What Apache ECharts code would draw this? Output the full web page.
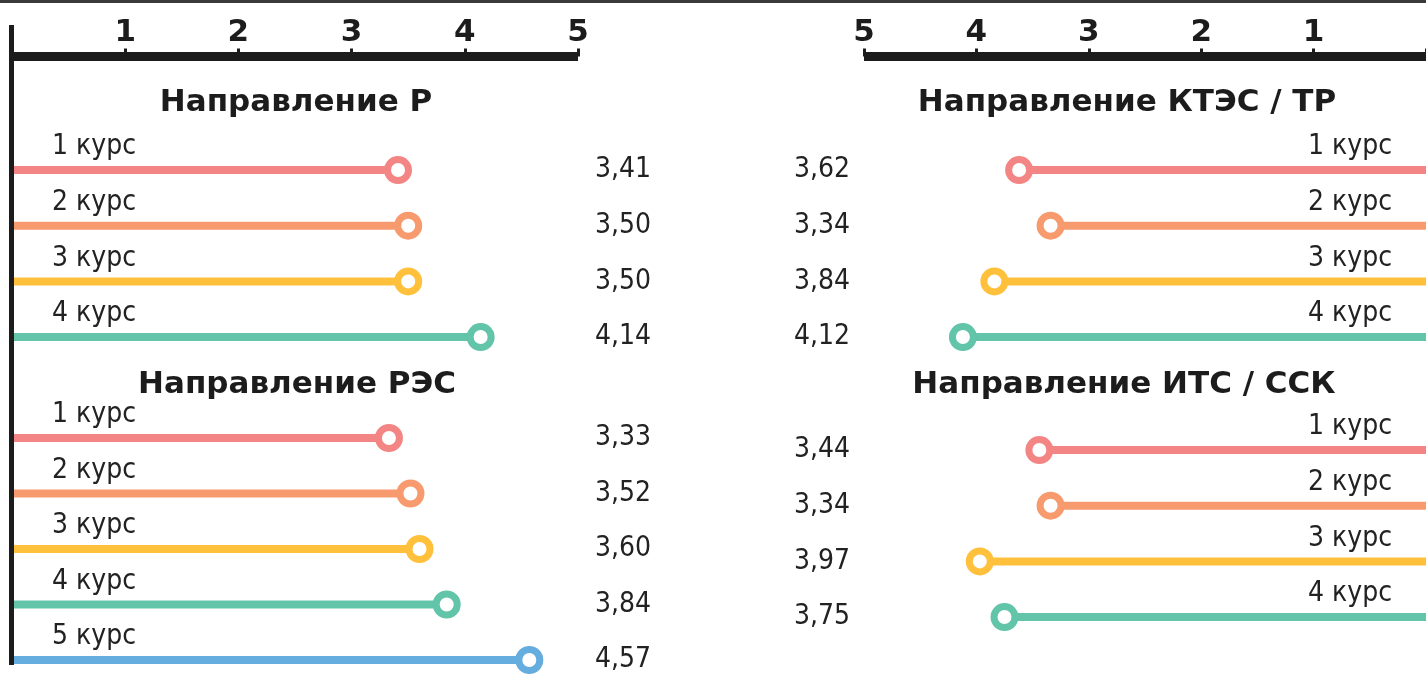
<!DOCTYPE html>
<html><head><meta charset="utf-8">
<script src="https://cdn.jsdelivr.net/npm/echarts@6/dist/echarts.min.js"></script>
<style>html,body{margin:0;padding:0;background:#fff;overflow:hidden}#c{width:1426px;height:695px}</style>
</head><body><div id="c"></div>
<script>
// ---- data ----
const groupTitles = ['Направление Р', 'Направление РЭС', 'Направление КТЭС / ТР', 'Направление ИТС / ССК'];
const coursesR = ['1 курс', '2 курс', '3 курс', '4 курс'];
const coursesRES = ['1 курс', '2 курс', '3 курс', '4 курс', '5 курс'];
const coursesKTES = ['1 курс', '2 курс', '3 курс', '4 курс'];
const coursesITS = ['1 курс', '2 курс', '3 курс', '4 курс'];
const valuesR = [3.41, 3.50, 3.50, 4.14];
const valuesRES = [3.33, 3.52, 3.60, 3.84, 4.57];
const valuesKTES = [3.62, 3.34, 3.84, 4.12];
const valuesITS = [3.44, 3.34, 3.97, 3.75];
const axisMin = 0, axisMax = 5, axisStep = 1;
const colors = ['#F38684', '#F79B6F', '#FFC13C', '#62C4A8', '#64ADDE'];

// ---- styling ----
const REG = "'DejaVu Sans Condensed','Liberation Sans Narrow','DejaVu Sans',sans-serif";
const BOLD = "'DejaVu Sans','Liberation Sans',sans-serif";
const INK = '#1c1c1c';
const fmt = v => v.toFixed(2).replace('.', ',');

const panels = [
  { courses: coursesR, values: valuesR, side: 'left', grid: { left: 12, width: 566, top: 142.2, height: 222.7 }, showAxis: true, title: groupTitles[0], tx: 296, ty: 103 },
  { courses: coursesRES, values: valuesRES, side: 'left', grid: { left: 12, width: 566, top: 410.25, height: 277.5 }, showAxis: false, title: groupTitles[1], tx: 297, ty: 385 },
  { courses: coursesKTES, values: valuesKTES, side: 'right', grid: { left: 864, width: 562, top: 142.2, height: 222.7 }, showAxis: true, title: groupTitles[2], tx: 1127, ty: 103 },
  { courses: coursesITS, values: valuesITS, side: 'right', grid: { left: 864, width: 562, top: 422.2, height: 222.7 }, showAxis: false, title: groupTitles[3], tx: 1124, ty: 385 }
];
const AXIS_Y = 56.5;

const grid = [], xAxis = [], yAxis = [], series = [], title = [];
panels.forEach((p, i) => {
  const L = p.side === 'left';
  grid.push(Object.assign({ containLabel: false, outerBoundsMode: 'none' }, p.grid));
  title.push({
    text: p.title, left: p.tx, top: p.ty - 16, textAlign: 'center', padding: 0,
    textStyle: { fontFamily: BOLD, fontWeight: 'bold', fontSize: 31, lineHeight: 32, color: INK }
  });
  xAxis.push({
    gridIndex: i, type: 'value', min: axisMin, max: axisMax, interval: axisStep,
    inverse: !L, position: 'top', offset: p.grid.top - AXIS_Y, show: p.showAxis,
    axisLine: { show: true, lineStyle: { color: INK, width: 9, cap: 'butt' } },
    axisTick: { show: true, length: 8, lineStyle: { color: INK, width: 3, cap: 'butt' } },
    splitLine: { show: false },
    axisLabel: { formatter: v => (v === 0 ? '' : String(v)), fontFamily: BOLD, fontWeight: 'bold', fontSize: 31, color: INK, margin: 8 }
  });
  yAxis.push({
    gridIndex: i, type: 'category', data: p.courses, inverse: true, position: L ? 'left' : 'right',
    axisLine: { show: false }, axisTick: { show: false },
    axisLabel: { inside: true, margin: L ? 40 : 34, fontFamily: REG, fontSize: 28, color: '#222', verticalAlign: 'bottom', lineHeight: 46 }
  });
  yAxis.push({
    gridIndex: i, type: 'category', data: p.values.map(fmt), inverse: true, position: L ? 'right' : 'left',
    axisLine: { show: false }, axisTick: { show: false },
    axisLabel: { margin: L ? 17 : 14, fontFamily: REG, fontSize: 28, color: '#222', align: L ? 'left' : 'right', verticalAlign: 'middle', lineHeight: 28, padding: [4, 0, 0, 0] }
  });
  series.push({
    type: 'bar', xAxisIndex: i, yAxisIndex: 2 * i, barWidth: 8, silent: true,
    data: p.values.map((v, j) => ({ value: v, itemStyle: { color: colors[j] } }))
  });
  series.push({
    type: 'scatter', xAxisIndex: i, yAxisIndex: 2 * i, symbol: 'circle', symbolSize: 21, z: 5, silent: true,
    data: p.values.map((v, j) => ({ value: [v, j], itemStyle: { color: '#fff', borderColor: colors[j], borderWidth: 7, opacity: 1 } }))
  });
});

const chart = echarts.init(document.getElementById('c'));
chart.setOption({
  animation: false,
  backgroundColor: '#fff',
  title, grid, xAxis, yAxis, series,
  graphic: [
    { type: 'line', z: 100, shape: { x1: 0, y1: 1.5, x2: 1426, y2: 1.5 }, style: { stroke: '#3a3a3a', lineWidth: 3 } },
    { type: 'line', z: 100, shape: { x1: 11.5, y1: 25, x2: 11.5, y2: 665 }, style: { stroke: INK, lineWidth: 5 } }
  ]
});
</script></body></html>
